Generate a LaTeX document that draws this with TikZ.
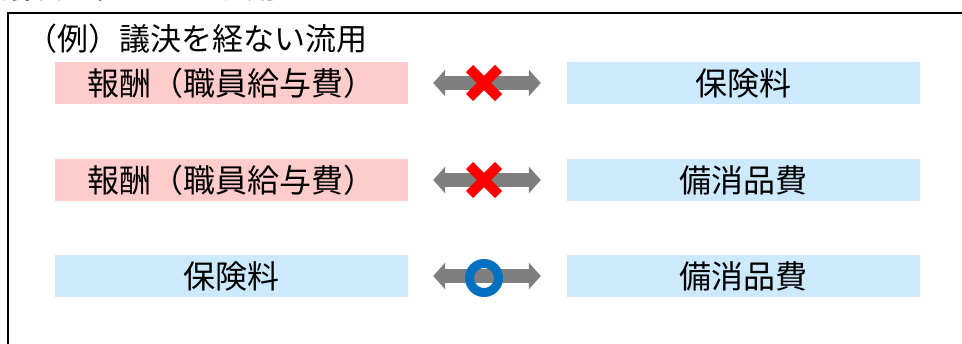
\documentclass[tikz,border=0pt]{standalone}
\usepackage{fontspec}
\newfontfamily\jp{Noto Sans CJK JP}
\usetikzlibrary{arrows.meta,calc}
\definecolor{pinkbox}{RGB}{255,204,204}
\definecolor{bluebox}{RGB}{204,234,252}
\definecolor{arrgray}{RGB}{127,127,127}
\definecolor{ringblue}{RGB}{0,112,192}
\tikzset{
  lbl/.style={font=\jp\fontsize{31}{31}\selectfont, inner sep=0pt},
  boxlbl/.style={font=\jp\fontsize{32}{32}\selectfont, inner sep=0pt},
  pbox/.style={boxlbl, fill=pinkbox, minimum width=353pt, minimum height=42pt},
  bbox/.style={boxlbl, fill=bluebox, minimum width=353pt, minimum height=42pt},
  dblarrow/.style={draw=arrgray, line width=14pt,
    {Triangle[width=26pt,length=12pt]}-{Triangle[width=26pt,length=12pt]},
    shorten <=25pt, shorten >=26pt},
  crossmark/.style={draw=red, line width=10pt},
  ringmark/.style={draw=ringblue, line width=9pt}
}
\begin{document}
\begin{tikzpicture}[x=1pt,y=-1pt]
\useasboundingbox (0,0) rectangle (962,343);
\begin{scope}
\clip (0,0) rectangle (962,343);
\node[lbl, anchor=south west] (cut) at (0,1) {議決を経ないで流用できるもの};
\end{scope}
% frame
\draw[line width=2pt] (8,345) -- (8,13) -- (964,13);
% title
\node[lbl, anchor=west] (title) at (26,39) {（例）議決を経ない流用};
% row 1
\node[pbox] (a1) at (231.5,83) {報酬（職員給与費）};
\node[bbox] (b1) at (743.5,83) {保険料};
\draw[dblarrow] (a1.east) -- (b1.west);
\coordinate (m1) at (484,83);
\draw[crossmark] ($(m1)+(-14.5,-14.5)$) -- ($(m1)+(14.5,14.5)$);
\draw[crossmark] ($(m1)+(-14.5,14.5)$) -- ($(m1)+(14.5,-14.5)$);
% row 2
\node[pbox] (a2) at (231.5,180) {報酬（職員給与費）};
\node[bbox] (b2) at (743.5,180) {備消品費};
\draw[dblarrow] (a2.east) -- (b2.west);
\coordinate (m2) at (484,180);
\draw[crossmark] ($(m2)+(-14.5,-14.5)$) -- ($(m2)+(14.5,14.5)$);
\draw[crossmark] ($(m2)+(-14.5,14.5)$) -- ($(m2)+(14.5,-14.5)$);
% row 3
\node[bbox] (a3) at (231.5,276) {保険料};
\node[bbox] (b3) at (743.5,276) {備消品費};
\draw[dblarrow] (a3.east) -- (b3.west);
\coordinate (m3) at (484,278);
\draw[ringmark] (m3) circle (14.5);
\end{tikzpicture}
\end{document}
